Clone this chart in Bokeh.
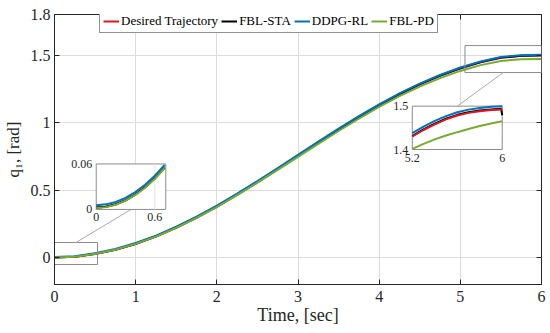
import numpy as np
from bokeh.plotting import figure
from bokeh.models import Range1d, FixedTicker, Label, LinearAxis
from bokeh.embed import file_html
from bokeh.resources import INLINE

# ---------------- data ----------------
t_main = [0, 0.25, 0.5, 0.75, 1.0, 1.25, 1.5, 1.75, 2.0, 2.25, 2.5, 2.75, 3.0,
          3.25, 3.5, 3.75, 4.0, 4.25, 4.5, 4.75, 5.0, 5.25, 5.5, 5.75, 6.0]
desired = [0.000, 0.006, 0.026, 0.057, 0.100, 0.155, 0.220, 0.293, 0.375, 0.463, 0.556, 0.652, 0.750,
           0.848, 0.944, 1.037, 1.125, 1.207, 1.280, 1.345, 1.400, 1.446, 1.479, 1.494, 1.500]
fbl_sta = [0.000, 0.006, 0.027, 0.058, 0.102, 0.157, 0.223, 0.297, 0.379, 0.468, 0.561, 0.657, 0.755,
           0.853, 0.949, 1.042, 1.130, 1.211, 1.284, 1.348, 1.403, 1.448, 1.481, 1.495, 1.496]
ddpg_rl = [0.004, 0.010, 0.031, 0.063, 0.107, 0.162, 0.228, 0.302, 0.384, 0.473, 0.566, 0.662, 0.760,
           0.858, 0.954, 1.047, 1.134, 1.215, 1.288, 1.352, 1.407, 1.452, 1.485, 1.499, 1.501]
fbl_pd = [0.000, 0.006, 0.026, 0.058, 0.101, 0.155, 0.220, 0.293, 0.374, 0.462, 0.554, 0.649, 0.745,
          0.842, 0.937, 1.029, 1.115, 1.195, 1.266, 1.329, 1.382, 1.425, 1.456, 1.469, 1.470]

series_names = ["Desired Trajectory", "FBL-STA", "DDPG-RL", "FBL-PD"]

x_ticks = [0, 1, 2, 3, 4, 5, 6]
x_tick_labels = ["0", "1", "2", "3", "4", "5", "6"]
y_ticks = [0, 0.5, 1, 1.5, 1.8]
y_tick_labels = ["0", "0.5", "1", "1.5", "1.8"]
x_title = "Time, [sec]"
y_title = "q\u2081, [rad]"

# left inset (zoom near start)
l_t = [0, 0.1, 0.2, 0.3, 0.4, 0.5, 0.6, 0.7]
l_desired = [0.0014, 0.0025, 0.0058, 0.0112, 0.0188, 0.0286, 0.0406, 0.0548]
l_sta = [0.0015, 0.0026, 0.0059, 0.0113, 0.0190, 0.0288, 0.0408, 0.0550]
l_ddpg = [0.0047, 0.0058, 0.0091, 0.0146, 0.0223, 0.0322, 0.0443, 0.0586]
l_pd = [0.0010, 0.0021, 0.0053, 0.0108, 0.0184, 0.0281, 0.0401, 0.0542]
l_xticks = [0, 0.6]
l_xtick_labels = ["0", "0.6"]
l_yticks = [0, 0.06]
l_ytick_labels = ["0", "0.06"]

# right inset (zoom near end)
r_t = [5.2, 5.3, 5.4, 5.5, 5.6, 5.7, 5.8, 5.9, 6.0]
r_desired = [1.430, 1.445, 1.458, 1.4695, 1.4785, 1.4845, 1.4885, 1.491, 1.4925]
r_ddpg = [1.438, 1.453, 1.466, 1.477, 1.486, 1.492, 1.496, 1.4985, 1.500]
r_pd = [1.4016, 1.4131, 1.4233, 1.4323, 1.4400, 1.4475, 1.4541, 1.4601, 1.4650]
r_sta_t = [5.2, 5.3, 5.4, 5.5, 5.6, 5.7, 5.8, 5.9, 5.99, 6.0]
r_sta = [1.431, 1.4465, 1.4595, 1.471, 1.480, 1.486, 1.490, 1.4925, 1.494, 1.479]
r_xticks = [5.2, 6]
r_xtick_labels = ["5.2", "6"]
r_yticks = [1.4, 1.5]
r_ytick_labels = ["1.4", "1.5"]

# ---------------- layout / style constants ----------------
FONT = "Liberation Serif"
TXT = "#262626"
C_RED, C_BLK, C_BLU, C_GRN = "#E3141E", "#000000", "#0072BD", "#77AC30"
GRAY = "#8c8c8c"
X_MAIN = (0.0, 6.0)
Y_MAIN = (-0.2, 1.8)

# inset data limits and placements (placement in main-axis units)
l_xlim, l_ylim = (0.0, 0.712), (-0.001, 0.06)
r_xlim, r_ylim = (5.2, 6.0), (1.4, 1.5)
l_place = (0.514, 1.371, 0.356, 0.693)
r_place = (4.408, 5.516, 0.800, 1.121)
zoom_l = (0.0, 0.53, -0.052, 0.111)
zoom_r = (5.057, 6.0, 1.370, 1.570)

p = figure(width=550, height=333, x_range=Range1d(*X_MAIN), y_range=Range1d(*Y_MAIN),
           output_backend="svg", toolbar_location=None,
           min_border_left=51, min_border_right=9, min_border_top=14, min_border_bottom=49)
p.background_fill_color = "white"
p.border_fill_color = "white"
p.outline_line_color = TXT
p.outline_line_width = 1
p.outline_line_alpha = 1

for axs, ticks, labels in ((p.xaxis, x_ticks, x_tick_labels), (p.yaxis, y_ticks, y_tick_labels)):
    axs.ticker = FixedTicker(ticks=ticks)
    axs.major_label_overrides = {k: v for k, v in zip(ticks, labels)}
    axs.minor_tick_line_color = None
    axs.major_tick_in = 5
    axs.major_tick_out = 0
    axs.axis_line_color = TXT
    axs.major_tick_line_color = TXT
    axs.major_label_text_font = FONT
    axs.major_label_text_font_size = "16px"
    axs.major_label_text_color = TXT
    axs.axis_label_text_font = FONT
    axs.axis_label_text_font_style = "normal"
    axs.axis_label_text_color = TXT
p.xaxis.major_label_standoff = 6
p.yaxis.major_label_standoff = 4
p.xaxis.axis_label = x_title
p.xaxis.axis_label_text_font_size = "18px"
p.xaxis.axis_label_standoff = 0
p.yaxis.axis_label = y_title
p.yaxis.axis_label_text_font_size = "17px"
p.yaxis.axis_label_standoff = 5

# box ticks on top and right (MATLAB "box on" style), no labels
for side, ticks in (("above", x_ticks), ("right", y_ticks)):
    ax = LinearAxis(ticker=FixedTicker(ticks=ticks),
                    major_label_overrides={k: "" for k in ticks},
                    major_label_text_font_size="1px", major_label_standoff=0,
                    major_tick_in=5, major_tick_out=0, minor_tick_line_color=None,
                    axis_line_color=None, major_tick_line_color=TXT)
    p.add_layout(ax, side)

p.xgrid.grid_line_color = "#dcdcdc"
p.ygrid.grid_line_color = "#dcdcdc"
p.xgrid.grid_line_width = 1
p.ygrid.grid_line_width = 1


def mapped_range(lim, place, main):
    a, b = lim
    X0, X1 = place
    s = (b - a) / (X1 - X0)
    return Range1d(a + (main[0] - X0) * s, a + (main[1] - X0) * s)


p.extra_x_ranges = {"lx": mapped_range(l_xlim, l_place[0:2], X_MAIN),
                    "rx": mapped_range(r_xlim, r_place[0:2], X_MAIN)}
p.extra_y_ranges = {"ly": mapped_range(l_ylim, l_place[2:4], Y_MAIN),
                    "ry": mapped_range(r_ylim, r_place[2:4], Y_MAIN)}

# main curves
colors = [C_RED, C_BLK, C_BLU, C_GRN]
for ys, c, name in zip([desired, fbl_sta, ddpg_rl, fbl_pd], colors, series_names):
    p.line(t_main, ys, line_color=c, line_width=2, legend_label=name)

# zoom boxes on main plot
for z in (zoom_l, zoom_r):
    p.quad(left=[z[0]], right=[z[1]], bottom=[z[2]], top=[z[3]], fill_alpha=0,
           line_color=GRAY, line_width=1)

# connectors: zoom box edge mid -> inset edge mid
p.segment(x0=[(zoom_l[0] + zoom_l[1]) / 2], y0=[zoom_l[3]],
          x1=[(l_place[0] + l_place[1]) / 2], y1=[l_place[2]], line_color="#aaaaaa", line_width=1)
p.segment(x0=[(zoom_r[0] + zoom_r[1]) / 2], y0=[zoom_r[2]],
          x1=[(r_place[0] + r_place[1]) / 2], y1=[r_place[3]], line_color="#aaaaaa", line_width=1)

# ---- left inset ----
p.quad(left=[l_xlim[0]], right=[l_xlim[1]], bottom=[l_ylim[0]], top=[l_ylim[1]],
       x_range_name="lx", y_range_name="ly", fill_color="white", line_color=GRAY, line_width=1)
p.segment(x0=[l_xticks[1]], y0=[l_ylim[0]], x1=[l_xticks[1]], y1=[l_ylim[1]],
          x_range_name="lx", y_range_name="ly", line_color="#e3e3e3", line_width=1)
for ys, c in zip([l_desired, l_sta, l_ddpg, l_pd], colors):
    p.line(l_t, ys, line_color=c, line_width=2, x_range_name="lx", y_range_name="ly")

# ---- right inset ----
p.quad(left=[r_xlim[0]], right=[r_xlim[1]], bottom=[r_ylim[0]], top=[r_ylim[1]],
       x_range_name="rx", y_range_name="ry", fill_color="white", line_color=GRAY, line_width=1)
p.line(r_sta_t, r_sta, line_color=C_BLK, line_width=2, x_range_name="rx", y_range_name="ry")
p.line(r_t, r_desired, line_color=C_RED, line_width=2, x_range_name="rx", y_range_name="ry")
p.line(r_t, r_ddpg, line_color=C_BLU, line_width=2, x_range_name="rx", y_range_name="ry")
p.line(r_t, r_pd, line_color=C_GRN, line_width=2, x_range_name="rx", y_range_name="ry")


# inset tick labels
def inset_labels(xr, yr, xlim, ylim, xticks, xlabels, yticks, ylabels):
    for v, s in zip(xticks, xlabels):
        p.add_layout(Label(x=v, y=ylim[0], x_range_name=xr, y_range_name=yr, text=s,
                           text_font=FONT, text_font_size="12px", text_color=TXT,
                           text_align="center", text_baseline="top", y_offset=-4))
    for v, s in zip(yticks, ylabels):
        p.add_layout(Label(x=xlim[0], y=v, x_range_name=xr, y_range_name=yr, text=s,
                           text_font=FONT, text_font_size="12px", text_color=TXT,
                           text_align="right", text_baseline="middle", x_offset=-4))


inset_labels("lx", "ly", l_xlim, l_ylim, l_xticks, l_xtick_labels, l_yticks, l_ytick_labels)
inset_labels("rx", "ry", r_xlim, r_ylim, r_xticks, r_xtick_labels, r_yticks, r_ytick_labels)

# legend
lg = p.legend[0]
lg.orientation = "horizontal"
lg.location = (45, 251)
lg.label_text_font = FONT
lg.label_text_font_size = "13px"
lg.label_text_color = "#000000"
lg.glyph_width = 16
lg.glyph_height = 14
lg.label_height = 14
lg.label_standoff = 2
lg.spacing = 3
lg.padding = 3
lg.margin = 0
lg.border_line_color = TXT
lg.border_line_width = 1
lg.background_fill_alpha = 1

open("out.html", "w").write(file_html(p, INLINE))
